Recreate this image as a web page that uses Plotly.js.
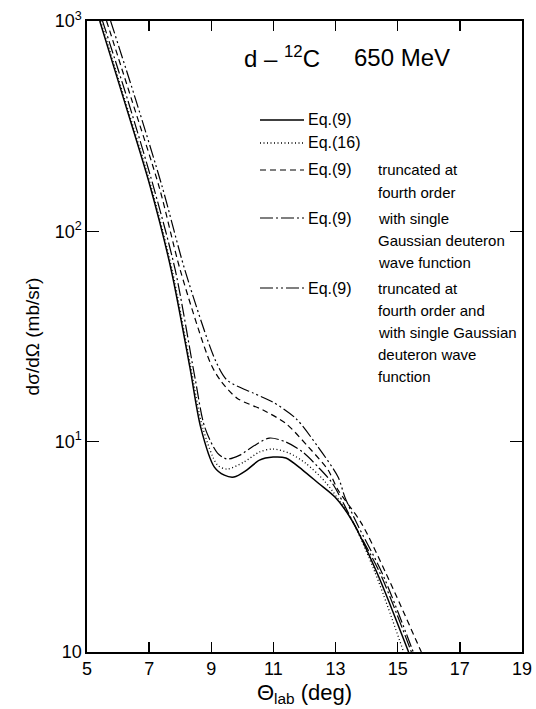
<!DOCTYPE html>
<html>
<head>
<meta charset="utf-8">
<script src="https://cdn.plot.ly/plotly-3.0.1.min.js"></script>
<style>html,body{margin:0;padding:0;background:#fff;}#chart{width:536px;height:709px;}</style>
</head>
<body>
<div id="chart"></div>
<script>
// ---- data ----
const xTickVals = [5, 7, 9, 11, 13, 15, 17, 19];
const yTickVals = [1, 10, 100, 1000];
const yTickText = ["10", "10<sup>1</sup>", "10<sup>2</sup>", "10<sup>3</sup>"];

// Eq.(9) - solid
const thetaEq9 = [5.41, 6.20, 7.02, 7.71, 8.31, 8.66, 9.10, 9.42, 9.73, 10.14, 10.55, 10.99, 11.40, 11.94, 12.44, 12.98, 13.52, 14.34, 15.35];
const sigmaEq9 = [1000, 417, 166, 65.5, 22.6, 11.7, 7.57, 6.93, 6.79, 7.33, 8.17, 8.45, 8.36, 7.33, 6.36, 5.45, 4.24, 2.37, 1.0];

// Eq.(16) - dotted
const thetaEq16 = [5.44, 6.23, 7.05, 7.74, 8.34, 8.72, 9.20, 9.51, 10.05, 10.55, 10.99, 11.50, 12.03, 12.67, 13.52, 14.28, 15.19];
const sigmaEq16 = [1000, 417, 166, 65.5, 22.6, 11.7, 7.74, 7.41, 8.00, 8.93, 9.23, 8.83, 7.91, 6.43, 4.24, 2.37, 1.0];

// Eq.(9) truncated at fourth order - dashed
const thetaTrunc = [5.63, 6.45, 7.33, 8.00, 8.97, 9.29, 9.83, 10.68, 11.40, 12.13, 12.76, 13.08, 13.83, 14.62, 15.76];
const sigmaTrunc = [1000, 417, 161, 65.5, 23.7, 19.6, 16.1, 14.1, 12.2, 9.42, 7.33, 5.89, 4.10, 2.37, 1.0];

// Eq.(9) with single Gaussian deuteron wave function - dash-dot
const thetaGauss = [5.50, 6.32, 7.15, 7.84, 8.47, 8.79, 9.20, 9.51, 9.92, 10.36, 10.87, 11.40, 11.94, 12.44, 12.89, 13.58, 14.43, 15.44];
const sigmaGauss = [1000, 417, 161, 65.5, 20.3, 11.7, 8.83, 8.27, 8.63, 9.53, 10.4, 9.96, 8.93, 7.57, 6.36, 4.10, 2.37, 1.0];

// Eq.(9) truncated at fourth order and single Gaussian - dash-dot-dot
const thetaTruncGauss = [5.76, 6.58, 7.43, 8.15, 9.13, 9.51, 10.36, 10.99, 11.72, 12.44, 13.08, 13.30, 13.68, 14.50, 15.50];
const sigmaTruncGauss = [1000, 417, 161, 65.5, 24.4, 19.6, 17.0, 15.4, 12.9, 9.42, 6.79, 5.45, 4.10, 2.37, 1.0];

// ---- layout helpers ----
const W = 536, H = 709;
const M = {l: 87, r: 14, t: 21, b: 57};
const PW = W - M.l - M.r, PH = H - M.t - M.b;
const px = x => (x - M.l) / PW;
const py = y => (H - M.b - y) / PH;
const FONT = "Liberation Sans, DejaVu Sans, sans-serif";

const DOT = "1px,2.5px";
const DASH = "6px,4px";
const DASHDOT = "13px,3px,2px,3px";
const DASHDOTDOT = "13px,3px,2px,3px,2px,3px";

function tr(x, y, dash, w) {
  return {x: x, y: y, type: 'scatter', mode: 'lines', hoverinfo: 'skip', showlegend: false,
    line: {color: '#000', width: w, dash: dash, shape: 'spline', smoothing: 0.8}};
}

const data = [
  tr(thetaEq9, sigmaEq9, 'solid', 1.5),
  tr(thetaEq16, sigmaEq16, DOT, 1.3),
  tr(thetaTrunc, sigmaTrunc, DASH, 1.2),
  tr(thetaGauss, sigmaGauss, DASHDOT, 1.2),
  tr(thetaTruncGauss, sigmaTruncGauss, DASHDOTDOT, 1.2)
];

const legendRows = [
  {y: 120, dash: 'solid', w: 1.5, eq: "Eq.(9)", lines: []},
  {y: 143, dash: DOT, w: 1.3, eq: "Eq.(16)", lines: []},
  {y: 170, dash: DASH, w: 1.2, eq: "Eq.(9)", lines: ["truncated at", "fourth order"]},
  {y: 218, dash: DASHDOT, w: 1.2, eq: "Eq.(9)", lines: ["with single", "Gaussian deuteron", "wave function"]},
  {y: 288, dash: DASHDOTDOT, w: 1.2, eq: "Eq.(9)", lines: ["truncated at", "fourth order and", "with single Gaussian", "deuteron wave", "function"]}
];
const LSTEP = 22.2;

const shapes = [];
const annotations = [];
legendRows.forEach(r => {
  shapes.push({type: 'line', xref: 'paper', yref: 'paper', x0: px(260), x1: px(304), y0: py(r.y), y1: py(r.y),
    line: {color: '#000', width: r.w, dash: r.dash}});
  annotations.push({xref: 'paper', yref: 'paper', x: px(306), y: py(r.y), xanchor: 'left', yanchor: 'middle',
    text: r.eq, showarrow: false, font: {family: FONT, size: 16, color: '#000'}});
  r.lines.forEach((t, i) => {
    annotations.push({xref: 'paper', yref: 'paper', x: px(376), y: py(r.y + i * LSTEP), xanchor: 'left', yanchor: 'middle',
      text: t, showarrow: false, font: {family: FONT, size: 15, color: '#000'}});
  });
});
annotations.push({xref: 'paper', yref: 'paper', x: px(242), y: py(57), xanchor: 'left', yanchor: 'middle',
  text: "d \u2013 <sup>12</sup>C", showarrow: false, font: {family: FONT, size: 24, color: '#000'}});
annotations.push({xref: 'paper', yref: 'paper', x: px(352), y: py(57), xanchor: 'left', yanchor: 'middle',
  text: "650 MeV", showarrow: false, font: {family: FONT, size: 24, color: '#000'}});

const layout = {
  width: W, height: H,
  margin: M,
  paper_bgcolor: '#fff', plot_bgcolor: '#fff',
  showlegend: false,
  font: {family: FONT, color: '#000'},
  xaxis: {
    range: [5, 19], tickmode: 'array', tickvals: xTickVals, ticktext: xTickVals.map(String),
    ticks: 'inside', ticklen: 10, tickwidth: 1.3, tickcolor: '#000', mirror: 'ticks',
    ticklabeloverflow: 'allow',
    showline: true, linecolor: '#000', linewidth: 1.6, showgrid: false, zeroline: false,
    tickfont: {family: FONT, size: 18, color: '#000'},
    title: {text: "\u0398<sub>lab</sub> (deg)", font: {family: FONT, size: 22, color: '#000'}, standoff: 6}
  },
  yaxis: {
    type: 'log', range: [0, 3], tickmode: 'array', tickvals: yTickVals, ticktext: yTickText,
    ticks: 'inside', ticklen: 12, tickwidth: 1.3, tickcolor: '#000', mirror: 'ticks',
    ticklabeloverflow: 'allow',
    showline: true, linecolor: '#000', linewidth: 1.6, showgrid: false, zeroline: false,
    tickfont: {family: FONT, size: 18, color: '#000'},
    title: {text: "d\u03c3/d\u03a9 (mb/sr)", font: {family: FONT, size: 19, color: '#000'}, standoff: 10}
  },
  shapes: shapes,
  annotations: annotations
};

Plotly.newPlot('chart', data, layout, {staticPlot: true, displayModeBar: false});
</script>
</body>
</html>
